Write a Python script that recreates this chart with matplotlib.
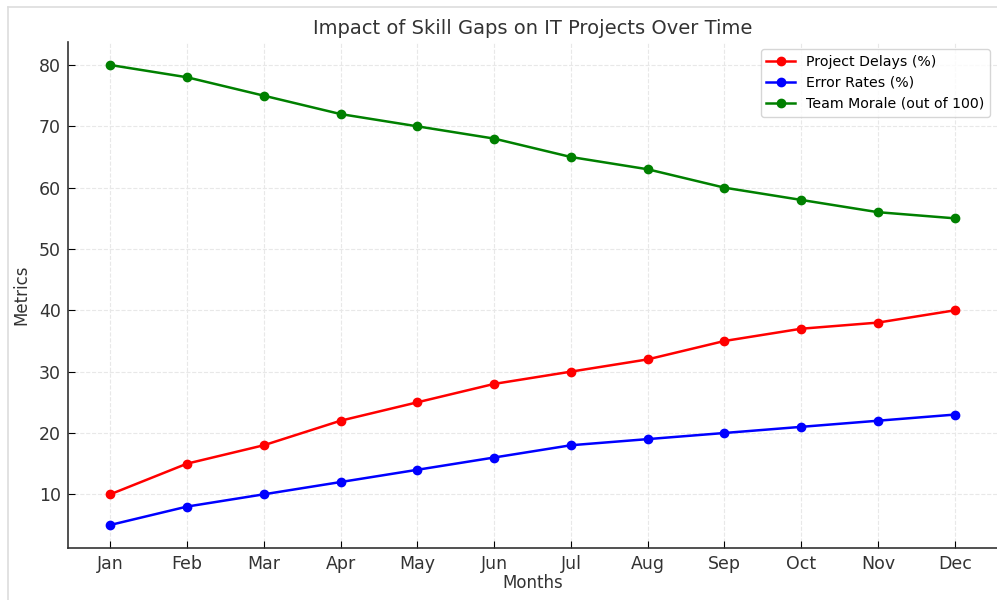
import matplotlib.pyplot as plt
from matplotlib.lines import Line2D

# Data
months = ['Jan', 'Feb', 'Mar', 'Apr', 'May', 'Jun', 'Jul', 'Aug', 'Sep', 'Oct', 'Nov', 'Dec']
project_delays = [10, 15, 18, 22, 25, 28, 30, 32, 35, 37, 38, 40]
error_rates = [5, 8, 10, 12, 14, 16, 18, 19, 20, 21, 22, 23]
team_morale = [80, 78, 75, 72, 70, 68, 65, 63, 60, 58, 56, 55]

fig = plt.figure(figsize=(9.97, 6), dpi=100)
# thin frame of the original screenshot (left and top edges)
fig.add_artist(Line2D([8/997, 8/997], [0, 1 - 7/600], color='#dddddd', lw=1.2))
fig.add_artist(Line2D([8/997, 1], [1 - 7/600, 1 - 7/600], color='#dddddd', lw=1.2))

ax = fig.add_axes([0.0682, 0.0867, 0.9318, 0.8433])

x = range(len(months))
ax.plot(x, project_delays, 'o-', color='red', label='Project Delays (%)', lw=1.8, ms=6)
ax.plot(x, error_rates, 'o-', color='blue', label='Error Rates (%)', lw=1.8, ms=6)
ax.plot(x, team_morale, 'o-', color='green', label='Team Morale (out of 100)', lw=1.8, ms=6)

ax.set_xticks(list(x))
ax.set_xticklabels(months)
ax.set_title('Impact of Skill Gaps on IT Projects Over Time', fontsize=14, color='#333333', pad=6)
ax.set_xlabel('Months', fontsize=12, color='#333333', labelpad=1)
ax.set_ylabel('Metrics', fontsize=12, color='#333333', labelpad=6)
ax.tick_params(direction='in', labelsize=12.5, labelcolor='#333333', length=5, pad=5)
ax.grid(True, linestyle='--', color='#e8e8e8', linewidth=0.8)
ax.spines['top'].set_visible(False)
ax.spines['right'].set_visible(False)
for s in ['left', 'bottom']:
    ax.spines[s].set_color('#333333')
    ax.spines[s].set_linewidth(1.2)
ax.legend(loc='upper right', fontsize=10.2)

fig.savefig('out.png', dpi=100)
